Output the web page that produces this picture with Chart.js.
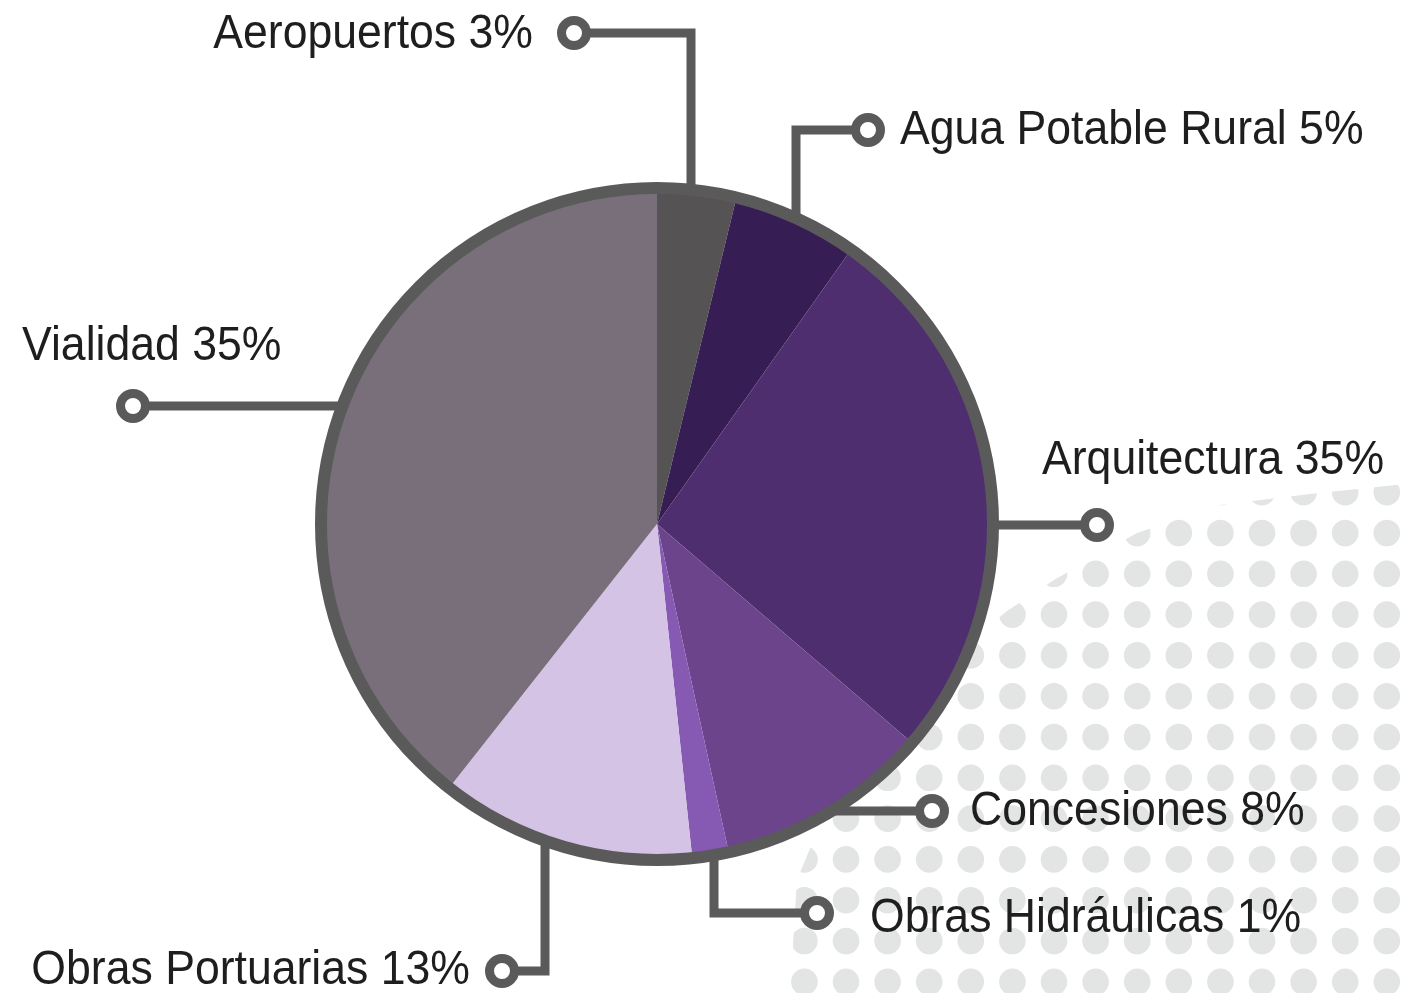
<html>
  <head>
    <meta charset="utf-8">
    <title>Distribución de inversión por servicio</title>
    <script src="https://cdn.jsdelivr.net/npm/chart.js@4.4.1/dist/chart.umd.min.js"></script>
    <style>
      body { margin: 0; background: #fff; }
      #wrap { width: 1405px; height: 993px; position: relative; }
    </style>
  </head>
  <body>
    <div id="wrap">
      <canvas id="pie"></canvas>
    </div>
    <script>
      // values (angles), printed labels keep the original percentages
      var categories = ['Aeropuertos', 'Agua Potable Rural', 'Arquitectura', 'Concesiones',
                        'Obras Hidráulicas', 'Obras Portuarias', 'Vialidad'];
      var shares = [3.8, 6.0, 26.5, 10.3, 1.75, 12.3, 39.4];
      var printedPct = ['3%', '5%', '35%', '8%', '1%', '13%', '35%'];
      var sliceColors = ['#555354', '#361d54', '#4e2e6e', '#6b448c', '#8659b3', '#d4c3e5', '#786f7b'];

      // callout placement (dot centre, optional elbow x, text anchor)
      var callouts = [
        {dot: [574, 33],  elbowX: 691, tx: 533,  ty: 48,  align: 'right'},
        {dot: [868, 130], elbowX: 796, tx: 900,  ty: 144, align: 'left'},
        {dot: [1097, 525],             tx: 1042, ty: 474, align: 'left'},
        {dot: [932, 811],              tx: 970,  ty: 825, align: 'left'},
        {dot: [817, 913], elbowX: 714, tx: 870,  ty: 932, align: 'left'},
        {dot: [502, 971], elbowX: 545, tx: 470,  ty: 984, align: 'right'},
        {dot: [133, 406],              tx: 22,   ty: 360, align: 'left'}
      ];

      var GREY = '#5a5a5a';
      var TEXT_SQUEEZE = 0.91; // the original face is narrower than Liberation Sans

      var dotPattern = {
        id: 'dotPattern',
        beforeDraw: function(chart) {
          var ctx = chart.ctx;
          ctx.save();
          ctx.beginPath();
          var edge = [[1405,484],[1310,494],[1220,505],[1137,533],[1054,580],[1007,611],
                      [900,700],[830,800],[797,880],[790,993],[1405,993]];
          ctx.moveTo(edge[0][0], edge[0][1]);
          for (var i = 1; i < edge.length; i++) ctx.lineTo(edge[i][0], edge[i][1]);
          ctx.closePath();
          ctx.clip();
          ctx.fillStyle = '#e3e4e4';
          for (var r = 0; r < 13; r++) {
            for (var c = 0; c < 15; c++) {
              ctx.beginPath();
              ctx.arc(804.4 + c * 41.6, 492.2 + r * 40.8, 13.3, 0, Math.PI * 2);
              ctx.fill();
            }
          }
          ctx.restore();
        }
      };

      var callout = {
        id: 'callout',
        afterDatasetsDraw: function(chart) {
          var ctx = chart.ctx;
          var arc = chart.getDatasetMeta(0).data[0];
          var cx = arc.x, cy = arc.y, R = arc.outerRadius;
          ctx.save();
          ctx.strokeStyle = GREY;
          ctx.lineWidth = 9;
          ctx.lineCap = 'butt';
          ctx.lineJoin = 'miter';
          callouts.forEach(function(c) {
            var dx = c.dot[0], dy = c.dot[1];
            ctx.beginPath();
            ctx.moveTo(dx, dy);
            if (c.elbowX !== undefined) {
              var off = Math.sqrt(R * R - Math.pow(c.elbowX - cx, 2));
              var ey = dy < cy ? cy - off : cy + off;
              ctx.lineTo(c.elbowX, dy);
              ctx.lineTo(c.elbowX, ey);
            } else {
              var offx = Math.sqrt(R * R - Math.pow(dy - cy, 2));
              ctx.lineTo(dx < cx ? cx - offx : cx + offx, dy);
            }
            ctx.stroke();
          });
          // outer ring of the pie
          ctx.beginPath();
          ctx.lineWidth = 12;
          ctx.arc(cx, cy, R, 0, Math.PI * 2);
          ctx.stroke();
          // end dots and texts
          ctx.font = '49px "Liberation Sans", Arial, sans-serif';
          ctx.textBaseline = 'alphabetic';
          callouts.forEach(function(c, i) {
            ctx.beginPath();
            ctx.arc(c.dot[0], c.dot[1], 12.5, 0, Math.PI * 2);
            ctx.fillStyle = '#fff';
            ctx.fill();
            ctx.lineWidth = 9;
            ctx.stroke();
            ctx.save();
            ctx.translate(c.tx, c.ty);
            ctx.scale(TEXT_SQUEEZE, 1);
            ctx.fillStyle = '#1e1e1e';
            ctx.textAlign = c.align;
            ctx.fillText(categories[i] + ' ' + printedPct[i], 0, 0);
            ctx.restore();
          });
          ctx.restore();
        }
      };

      new Chart('pie', {
        type: 'pie',
        data: {
          labels: categories,
          datasets: [{
            data: shares,
            backgroundColor: sliceColors,
            borderWidth: 0
          }]
        },
        options: {
          responsive: true,
          maintainAspectRatio: false,
          animation: false,
          layout: {
            padding: {top: 188, bottom: 133, left: 321, right: 412}
          },
          plugins: {
            legend: {display: false},
            tooltip: {enabled: false}
          }
        },
        plugins: [dotPattern, callout]
      });
    </script>
  </body>
</html>
